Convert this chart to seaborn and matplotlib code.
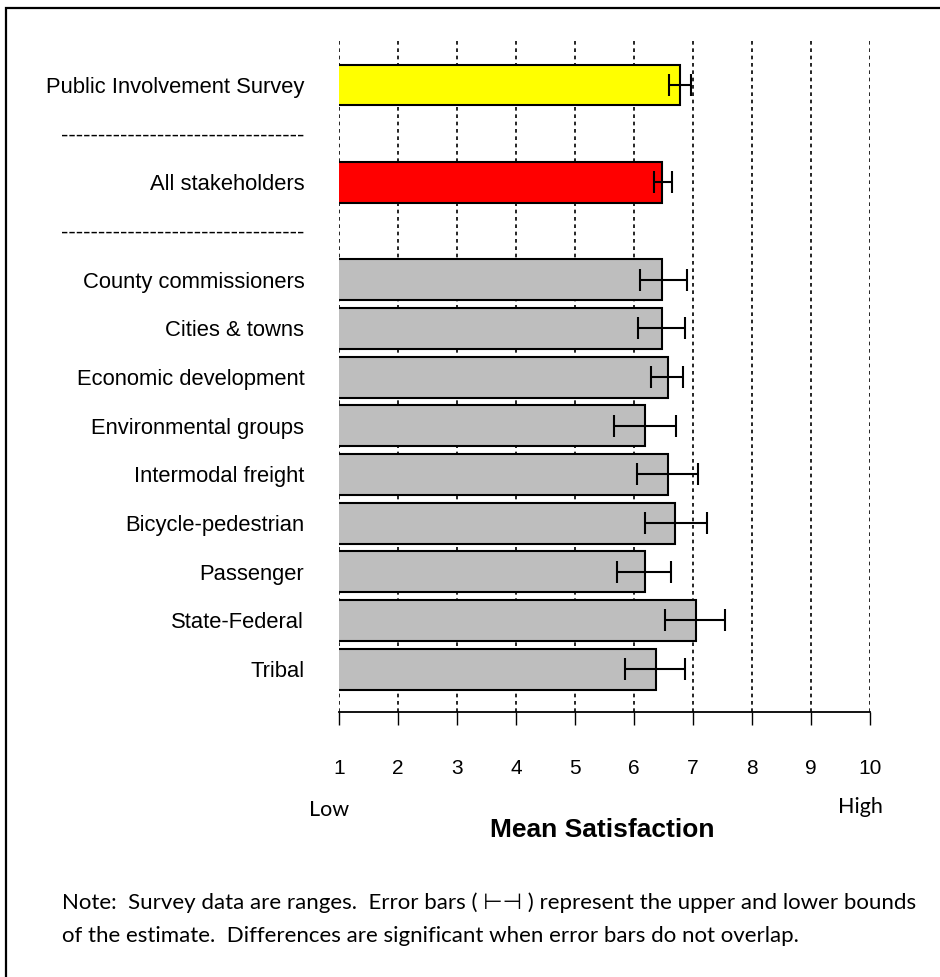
import matplotlib
matplotlib.use("Agg")
import matplotlib.pyplot as plt
import matplotlib.patches as patches
import seaborn as sns
import pandas as pd

# Donnees
groupes = ["Public Involvement Survey", "All stakeholders", "County commissioners",
           "Cities & towns", "Economic development", "Environmental groups",
           "Intermodal freight", "Bicycle-pedestrian", "Passenger",
           "State-Federal", "Tribal"]
moyennes = [6.78, 6.48, 6.48, 6.48, 6.58, 6.19, 6.58, 6.70, 6.19, 7.05, 6.37]
borne_basse = [6.59, 6.34, 6.10, 6.07, 6.28, 5.66, 6.05, 6.19, 5.72, 6.52, 5.84]
borne_haute = [6.96, 6.64, 6.90, 6.87, 6.83, 6.72, 7.08, 7.23, 6.63, 7.55, 6.87]
couleurs = ["#FFFF00", "#FF0000"] + ["#BEBEBE"] * 9

# ordre des lignes, avec deux lignes de separation vides
ordre = ["Public Involvement Survey", "sep1", "All stakeholders", "sep2"] + groupes[2:]
etiquettes = ["-" * 33 if o.startswith("sep") else o for o in ordre]
graduations = list(range(1, 11))

df = pd.DataFrame({"Groupe": groupes, "Moyenne": moyennes})

sns.set_style("white")
plt.rcParams["font.family"] = ["Liberation Sans", "DejaVu Sans"]
plt.rcParams["text.color"] = "black"
plt.rcParams["xtick.color"] = "black"
plt.rcParams["ytick.color"] = "black"

fig = plt.figure(figsize=(9.4, 9.77), dpi=100)
ax = fig.add_axes([339 / 940, 1 - 712 / 977, 531 / 940, 672 / 977])

# grille pointillee derriere les barres
for g in graduations:
    ax.axvline(g, color="black", lw=1.2, ls=(0, (2.2, 2.2)), zorder=0)

sns.barplot(data=df, x="Moyenne", y="Groupe", order=ordre, hue="Groupe",
            hue_order=groupes, palette=couleurs, legend=False, errorbar=None,
            width=0.84, edgecolor="black", linewidth=1.5, saturation=1,
            orient="h", ax=ax, zorder=2)

# barres d'erreur (bornes basse et haute)
pos = [ordre.index(g) for g in groupes]
centre = [(b + h) / 2 for b, h in zip(borne_basse, borne_haute)]
demi = [(h - b) / 2 for b, h in zip(borne_basse, borne_haute)]
ax.errorbar(centre, pos, xerr=demi, fmt="none", ecolor="black",
            elinewidth=1.5, capsize=8, capthick=1.5, zorder=3)

ax.set_xlim(1, 10)
ax.set_ylim(12.88, -0.925)
ax.set_xticks(graduations)
ax.set_xticklabels([str(g) for g in graduations], fontsize=15)
ax.set_yticks(range(len(ordre)))
ax.set_yticklabels(etiquettes, fontsize=15.8)
ax.set_xlabel("")
ax.set_ylabel("")
ax.tick_params(axis="x", bottom=True, direction="out", length=9.5, width=1.0,
               pad=24, color="black", labelcolor="black")
ax.tick_params(axis="y", left=False, length=0, pad=25, labelcolor="black")
sns.despine(ax=ax, left=True, top=True, right=True)
ax.spines["bottom"].set_linewidth(1.3)
ax.spines["bottom"].set_color("black")

fig.text(329 / 940, 1 - 810 / 977, "Low", ha="center", va="center",
         fontsize=15.5, family=["Lato", "DejaVu Sans"])
fig.text(860 / 940, 1 - 807 / 977, "High", ha="center", va="center",
         fontsize=15.5, family=["Lato", "DejaVu Sans"])
fig.text(602 / 940, 1 - 830 / 977, "Mean Satisfaction", ha="center", va="center",
         fontsize=19, fontweight="bold")

note1 = "Note:  Survey data are ranges.  Error bars ( \u22a2\u22a3 ) represent the upper and lower bounds"
note2 = "of the estimate.  Differences are significant when error bars do not overlap."
fig.text(62 / 940, 1 - 903 / 977, note1, ha="left", va="center",
         fontsize=16, family=["Lato", "DejaVu Sans"])
fig.text(62 / 940, 1 - 936 / 977, note2, ha="left", va="center",
         fontsize=16, family=["Lato", "DejaVu Sans"])

# cadre autour de la figure
fig.add_artist(patches.Rectangle((6 / 940, -0.05), 1.2, 1.05 - 8 / 977,
                                 transform=fig.transFigure, fill=False,
                                 edgecolor="black", lw=1.6))

fig.savefig("out.png", dpi=100)
